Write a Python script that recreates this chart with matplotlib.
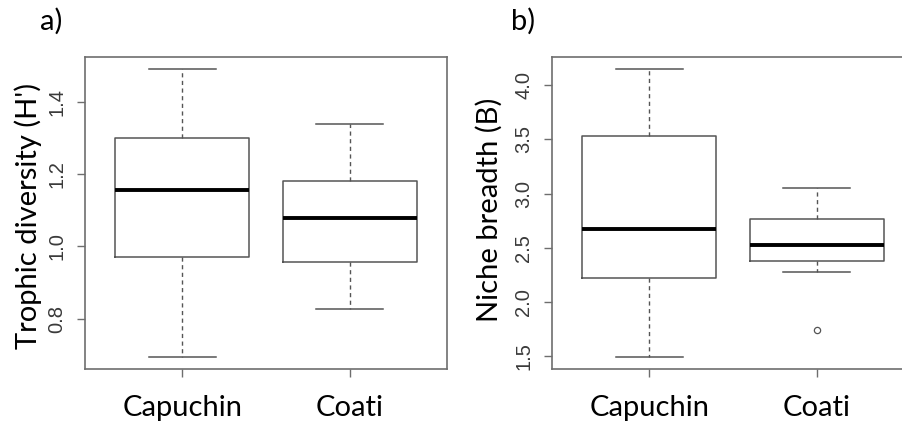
import matplotlib
matplotlib.use("Agg")
import matplotlib.pyplot as plt

categories = ["Capuchin", "Coati"]

# Panel a) Trophic diversity (H')
h_whislo = [0.692, 0.827]
h_q1 = [0.972, 0.956]
h_med = [1.158, 1.080]
h_q3 = [1.302, 1.181]
h_whishi = [1.494, 1.341]
h_fliers = [[], []]
h_ticks = [0.8, 1.0, 1.2, 1.4]

# Panel b) Niche breadth (B)
b_whislo = [1.490, 2.281]
b_q1 = [2.223, 2.383]
b_med = [2.678, 2.530]
b_q3 = [3.530, 2.770]
b_whishi = [4.154, 3.049]
b_fliers = [[], [1.739]]
b_ticks = [1.5, 2.0, 2.5, 3.0, 3.5, 4.0]

W, H = 902, 425
fig = plt.figure(figsize=(W / 100, H / 100), dpi=100)

LINE = "#555555"
SPINE = "#6e6e6e"
TICKC = "#3a3a3a"
LABEL_FONT = ["Lato", "DejaVu Sans"]
TICK_FONT = ["Liberation Sans", "DejaVu Sans"]


def make_stats(whislo, q1, med, q3, whishi, fliers):
    out = []
    for i in range(len(med)):
        out.append(dict(whislo=whislo[i], q1=q1[i], med=med[i], q3=q3[i],
                        whishi=whishi[i], fliers=fliers[i], label=categories[i]))
    return out


def draw(ax, stats, ticks, ylabel):
    ax.bxp(stats, positions=[1, 2], widths=0.8, showfliers=True,
           boxprops=dict(color=LINE, linewidth=1.1),
           medianprops=dict(color="black", linewidth=2.8),
           whiskerprops=dict(color=LINE, linewidth=1.0, linestyle=(0, (3, 2.5))),
           capprops=dict(color=LINE, linewidth=1.1),
           capwidths=0.4,
           flierprops=dict(marker="o", markersize=4.5, markerfacecolor="none",
                           markeredgecolor=LINE, markeredgewidth=0.9))
    lo = min(min(s["whislo"] for s in stats), min([f for s in stats for f in s["fliers"]] or [9e9]))
    hi = max(s["whishi"] for s in stats)
    r = hi - lo
    ax.set_ylim(lo - 0.04 * r, hi + 0.04 * r)
    ax.set_xlim(0.42, 2.58)
    ax.set_yticks(ticks)
    ax.set_yticklabels([f"{t:.1f}" for t in ticks], rotation=90, va="center",
                       fontfamily=TICK_FONT, fontsize=14.5, color=TICKC)
    ax.set_xticks([1, 2])
    ax.set_xticklabels(categories, fontfamily=LABEL_FONT, fontsize=21, color="black")
    ax.tick_params(axis="y", length=6, width=1, color=SPINE, pad=7.5)
    ax.tick_params(axis="x", length=6, width=1, color=SPINE, pad=13)
    for sp in ax.spines.values():
        sp.set_color(SPINE)
        sp.set_linewidth(1.2)
    ax.set_facecolor("white")


ax1 = fig.add_axes([85 / W, 56 / H, 362 / W, 312 / H])
draw(ax1, make_stats(h_whislo, h_q1, h_med, h_q3, h_whishi, h_fliers), h_ticks,
     "Trophic diversity (H')")
ax2 = fig.add_axes([552.2 / W, 56 / H, 361.6 / W, 312 / H])
draw(ax2, make_stats(b_whislo, b_q1, b_med, b_q3, b_whishi, b_fliers), b_ticks,
     "Niche breadth (B)")

fig.text(28.5 / W, 1 - 216 / H, "Trophic diversity (H')", rotation=90, ha="center",
         va="center", fontfamily=LABEL_FONT, fontsize=21)
fig.text(489 / W, 1 - 210 / H, "Niche breadth (B)", rotation=90, ha="center",
         va="center", fontfamily=LABEL_FONT, fontsize=21)
fig.text(51.5 / W, 1 - 21 / H, "a)", ha="center", va="center",
         fontfamily=LABEL_FONT, fontsize=21)
fig.text(523.5 / W, 1 - 21 / H, "b)", ha="center", va="center",
         fontfamily=LABEL_FONT, fontsize=21)

fig.savefig("out.png", dpi=100, facecolor="white")
